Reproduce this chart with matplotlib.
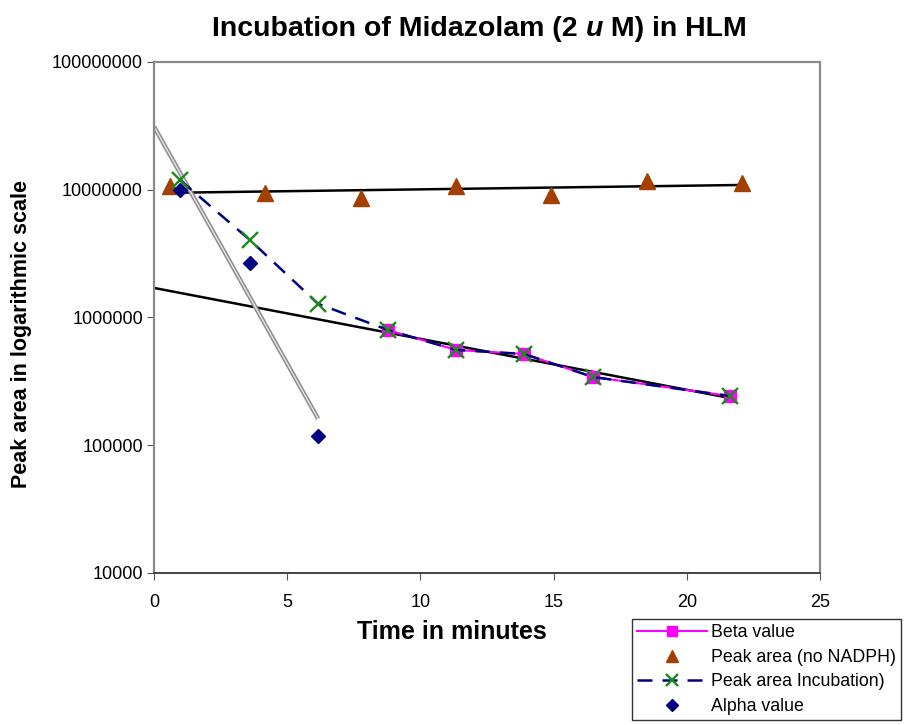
import numpy as np
import matplotlib.pyplot as plt

plt.rcParams['font.family'] = ['Liberation Sans', 'DejaVu Sans']

# DATA
beta_t = [8.78, 11.34, 13.89, 16.48, 21.62]
beta_y = [798000, 557000, 518000, 342000, 243000]

noNADPH_t = [0.6, 4.17, 7.77, 11.34, 14.9, 18.5, 22.07]
noNADPH_y = [10700000, 9400000, 8600000, 10700000, 9100000, 11700000, 11300000]

incub_t = [0.98, 3.6, 6.16, 8.78, 11.34, 13.89, 16.48, 21.62]
incub_y = [11900000, 4040000, 1280000, 798000, 557000, 518000, 342000, 243000]

alpha_t = [0.98, 3.6, 6.16]
alpha_y = [9950000, 2670000, 118000]

xticks = [0, 5, 10, 15, 20, 25]
yticks = [1e4, 1e5, 1e6, 1e7, 1e8]


def expfit(t, y):
    # exponential trendline, like Excel
    k, b = np.polyfit(t, np.log10(y), 1)
    return lambda x: 10 ** (k * np.asarray(x) + b)


fig = plt.figure(figsize=(9.06, 7.25), dpi=100)
ax = fig.add_axes([0.170, 0.2097, 0.735, 0.7048])

# trend lines
f_no = expfit(noNADPH_t, noNADPH_y)
xx = np.array([0.45, 22.07])
ax.plot(xx, f_no(xx), color='black', lw=1.8, zorder=2)

f_beta = expfit(beta_t, beta_y)
xx = np.array([0.0, 21.62])
ax.plot(xx, f_beta(xx), color='black', lw=1.8, zorder=2)

f_alpha = expfit(alpha_t, alpha_y)
xx = np.array([0.0, 6.16])
ax.plot(xx, f_alpha(xx), color='#8c8c8c', lw=3.2, zorder=2, solid_capstyle='butt')
ax.plot(xx, f_alpha(xx), color='#e6e6e6', lw=1.0, zorder=2.1, solid_capstyle='butt')

# series
ax.plot(beta_t, beta_y, color='#ff00ff', lw=1.5, marker='s', ms=9,
        mfc='#ff00ff', mec='#ff00ff', label='Beta value', zorder=3)
ax.plot(noNADPH_t, noNADPH_y, ls='none', marker='^', ms=11,
        color='#a33f00', label='Peak area (no NADPH)', zorder=3)
ax.plot(incub_t, incub_y, color='#000080', lw=1.8, ls=(0, (6, 4)), marker='x', ms=11,
        mec='#1a8a1a', mew=1.7, label='Peak area Incubation)', zorder=4)
ax.plot(alpha_t, alpha_y, ls='none', marker='D', ms=7.5,
        color='#000080', label='Alpha value', zorder=5)

ax.set_yscale('log')
ax.set_xlim(0, 25)
ax.set_ylim(1e4, 1e8)
ax.set_xticks(xticks)
ax.set_xticklabels([str(v) for v in xticks])
ax.set_yticks(yticks)
ax.set_yticklabels([str(int(v)) for v in yticks])
ax.yaxis.set_minor_locator(plt.NullLocator())
ax.tick_params(labelsize=13, length=5, direction='out', color='#555555')
ax.tick_params(axis='y', pad=3)
ax.tick_params(axis='x', pad=10)

for side in ['left', 'top', 'right']:
    ax.spines[side].set_color('#8a8a8a')
    ax.spines[side].set_linewidth(1.6)
ax.spines['bottom'].set_color('#444444')
ax.spines['bottom'].set_linewidth(1.4)

ax.set_xlabel('Time in minutes', fontsize=18, fontweight='bold')
ax.xaxis.set_label_coords((452 - 154) / 666, -0.092)
ax.set_ylabel('Peak area in logarithmic scale', fontsize=15.5, fontweight='bold')
ax.yaxis.set_label_coords(-0.183, (573 - 334) / 511)

# title with italic u, built piece by piece along one baseline
renderer = fig.canvas.get_renderer()
pieces = [('Incubation of Midazolam (2 ', 'normal'), ('u', 'italic'), (' M) in HLM', 'normal')]
tx = 212 / 906
ty = 1 - 36 / 725
for s, style in pieces:
    t = fig.text(tx, ty, s, fontsize=20.5, fontweight='bold', fontstyle=style,
                 ha='left', va='baseline')
    bb = t.get_window_extent(renderer)
    tx += bb.width / fig.bbox.width

leg = fig.legend(loc='upper left', bbox_to_anchor=(632 / 906, 1 - 619 / 725),
                 fontsize=12.8, frameon=True, fancybox=False, edgecolor='black',
                 borderpad=0.3, labelspacing=0.42, handlelength=3.9, handletextpad=0.25,
                 borderaxespad=0, markerscale=0.85)
leg.get_frame().set_linewidth(1.0)

fig.savefig('out.png', dpi=100)
